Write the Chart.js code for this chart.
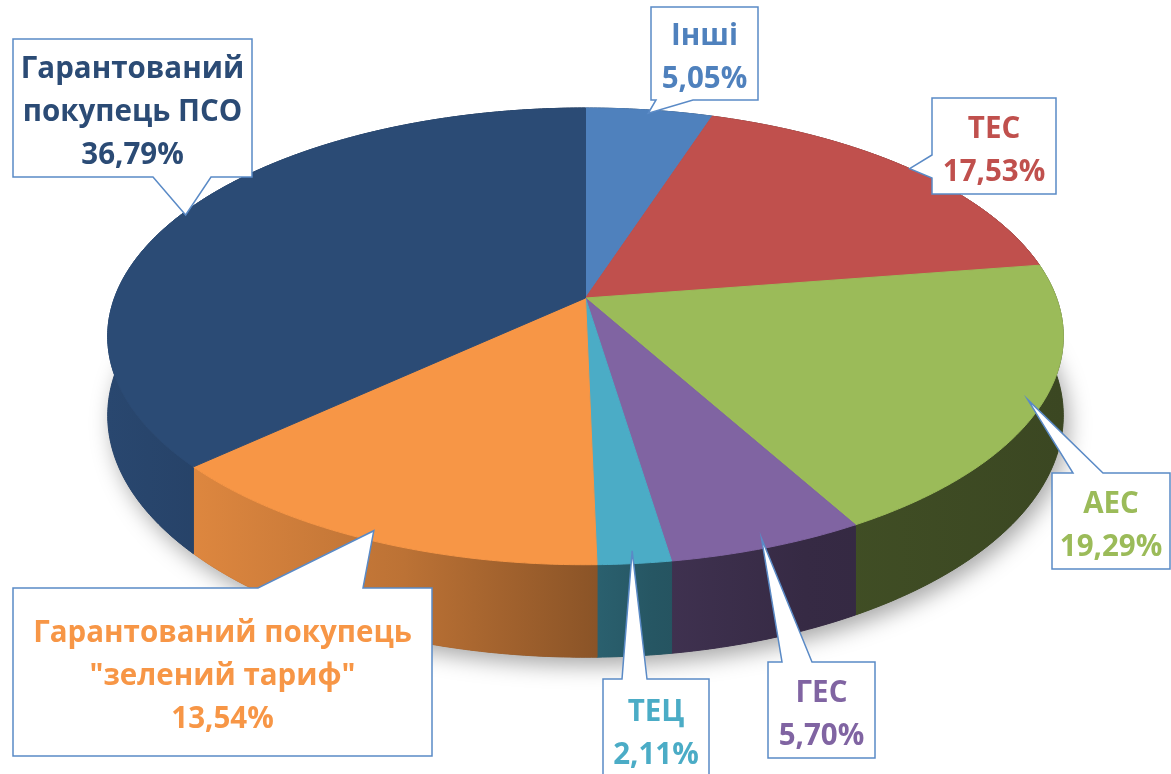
<!DOCTYPE html>
<html lang="uk">
<head>
<meta charset="utf-8">
<title>Структура</title>
<script src="https://cdn.jsdelivr.net/npm/chart.js@4.4.1/dist/chart.umd.min.js"></script>
<style>
  html, body { margin: 0; padding: 0; background: #fff; }
  #wrap { width: 1171px; height: 774px; overflow: hidden; }
</style>
</head>
<body>
<div id="wrap"><canvas id="pie" width="1171" height="774"></canvas></div>
<script>
/* --------------- Data --------------------- */
const labels = ["Інші", "ТЕС", "АЕС", "ГЕС", "ТЕЦ", 'Гарантований покупець "зелений тариф"', "Гарантований покупець ПСО"];
const shares = [5.05, 17.53, 19.29, 5.70, 2.11, 13.54, 36.79];
const sliceColors = ["#4F81BD", "#C0504D", "#9BBB59", "#8064A2", "#4BACC6", "#F79646", "#2B4B75"];
const textColors = ["#4F81BD", "#C0504D", "#9BBB59", "#8064A2", "#4BACC6", "#F79646", "#2B4B75"];
// label text as it is broken into lines in the callouts
const calloutNames = [
  ["Інші"], ["ТЕС"], ["АЕС"], ["ГЕС"], ["ТЕЦ"],
  ["Гарантований покупець", '"зелений тариф"'],
  ["Гарантований", "покупець ПСО"],
];

/* --------------- Callout boxes (layout only) --------------------- */
const boxes = [
  { x: 651, y: 7, w: 107, h: 93, side: "bottom", a: 5, b: 42, r: 0.98 },
  { x: 932, y: 98, w: 124, h: 96, side: "left", a: 57, b: 80, r: 1.0 },
  { x: 1052, y: 473, w: 118, h: 96, side: "top", a: 21, b: 51, r: 0.97 },
  { x: 768, y: 662, w: 107, h: 96, side: "top", a: 14, b: 44, r: 0.97 },
  { x: 603, y: 679, w: 106, h: 100, side: "top", a: 19, b: 44, r: 0.96 },
  { x: 13, y: 588, w: 419, h: 168, side: "top", a: 245, b: 350, r: 0.97 },
  { x: 13, y: 39, w: 239, h: 138, side: "bottom", a: 140, b: 198, r: 0.99 },
];

/* --------------- 3D look: perspective tilt of the pie --------------------- */
const TILT = { sx: 2.479, sy: 1.168, depth: 0.405, k: 0.168 };
const sideStops = [[0, 0.95], [0.31, 0.76], [0.57, 0.5], [0.73, 0.42], [1, 0.38]];

function project(arc, ang, r, z) {
  const u = Math.cos(ang) * r, v = -Math.sin(ang) * r;
  const R = arc.outerRadius;
  const w = 1 + TILT.k * v;
  return { x: arc.x + R * TILT.sx * u / w, y: arc.y + R * (-TILT.sy * v + TILT.depth * z) / w };
}

function arcPoints(arc, z) {
  const pts = [];
  const n = Math.max(2, Math.ceil((arc.endAngle - arc.startAngle) / 0.01));
  for (let j = 0; j <= n; j++) {
    const a = arc.startAngle + (arc.endAngle - arc.startAngle) * j / n;
    pts.push(project(arc, a, 1, z));
  }
  return pts;
}

function shade(hex, f) {
  const n = parseInt(hex.slice(1), 16);
  const r = Math.round(((n >> 16) & 255) * f), g = Math.round(((n >> 8) & 255) * f), b = Math.round((n & 255) * f);
  return `rgb(${r},${g},${b})`;
}

const pie3d = {
  id: "pie3d",
  beforeDatasetsDraw(chart) {
    const ctx = chart.ctx;
    const arcs = chart.getDatasetMeta(0).data;
    const c = arcs[0];
    const full = { x: c.x, y: c.y, outerRadius: c.outerRadius, startAngle: 0, endAngle: Math.PI * 2 };

    // soft shadow under the pie
    ctx.save();
    ctx.beginPath();
    arcPoints(full, 1).forEach((p, j) => (j ? ctx.lineTo(p.x, p.y) : ctx.moveTo(p.x, p.y)));
    ctx.closePath();
    ctx.shadowColor = "rgba(0,0,0,0.35)";
    ctx.shadowBlur = 22;
    ctx.shadowOffsetX = 5;
    ctx.shadowOffsetY = 8;
    ctx.fillStyle = "#444";
    ctx.fill();
    ctx.restore();

    // sides
    const left = c.x - c.outerRadius * TILT.sx * 1.015;
    const right = c.x + c.outerRadius * TILT.sx * 1.015;
    arcs.forEach((arc, i) => {
      const g = ctx.createLinearGradient(left, 0, right, 0);
      sideStops.forEach(([pos, f]) => g.addColorStop(pos, shade(sliceColors[i], f)));
      const top = arcPoints(arc, 0), bottom = arcPoints(arc, 1).reverse();
      ctx.beginPath();
      top.concat(bottom).forEach((p, j) => (j ? ctx.lineTo(p.x, p.y) : ctx.moveTo(p.x, p.y)));
      ctx.closePath();
      ctx.fillStyle = g;
      ctx.fill();
      ctx.strokeStyle = g;
      ctx.lineWidth = 1;
      ctx.stroke();
    });

    // top faces
    arcs.forEach((arc, i) => {
      const o = project(arc, 0, 0, 0);
      ctx.beginPath();
      ctx.moveTo(o.x, o.y);
      arcPoints(arc, 0).forEach((p) => ctx.lineTo(p.x, p.y));
      ctx.closePath();
      ctx.fillStyle = sliceColors[i];
      ctx.fill();
      ctx.strokeStyle = sliceColors[i];
      ctx.lineWidth = 1;
      ctx.stroke();
    });
    return false;
  },
  afterDraw(chart) {
    const ctx = chart.ctx;
    const arcs = chart.getDatasetMeta(0).data;
    ctx.save();
    arcs.forEach((arc, i) => {
      const b = boxes[i];
      const tip = project(arc, (arc.startAngle + arc.endAngle) / 2, b.r, 0);
      const { x, y, w, h } = b;
      ctx.beginPath();
      ctx.moveTo(x, y);
      if (b.side === "top") { ctx.lineTo(x + b.a, y); ctx.lineTo(tip.x, tip.y); ctx.lineTo(x + b.b, y); }
      ctx.lineTo(x + w, y);
      ctx.lineTo(x + w, y + h);
      if (b.side === "bottom") { ctx.lineTo(x + b.b, y + h); ctx.lineTo(tip.x, tip.y); ctx.lineTo(x + b.a, y + h); }
      ctx.lineTo(x, y + h);
      if (b.side === "left") { ctx.lineTo(x, y + b.b); ctx.lineTo(tip.x, tip.y); ctx.lineTo(x, y + b.a); }
      ctx.closePath();
      ctx.fillStyle = "#ffffff";
      ctx.fill();
      ctx.strokeStyle = "#5A8AC6";
      ctx.lineWidth = 1.5;
      ctx.stroke();

      const lines = calloutNames[i].concat([shares[i].toFixed(2).replace(".", ",") + "%"]);
      ctx.fillStyle = textColors[i];
      ctx.font = "bold 29.5px 'Open Sans'";
      ctx.textAlign = "center";
      ctx.textBaseline = "alphabetic";
      const cx = x + w / 2, cy = y + h / 2;
      lines.forEach((t, j) => {
        ctx.fillText(t, cx, cy + (j - (lines.length - 1) / 2) * 43 + 13);
      });
    });
    ctx.restore();
  },
};

/* --------------- Chart --------------------- */
new Chart(document.getElementById("pie"), {
  type: "pie",
  plugins: [pie3d],
  data: {
    labels: labels,
    datasets: [{ data: shares, backgroundColor: sliceColors, borderWidth: 0, hoverOffset: 0, offset: 0 }],
  },
  options: {
    responsive: false,
    animation: false,
    layout: { padding: { top: 108, bottom: 286, left: 0, right: 0 } },
    plugins: { legend: { display: false }, tooltip: { enabled: false } },
  },
});
</script>
</body>
</html>
